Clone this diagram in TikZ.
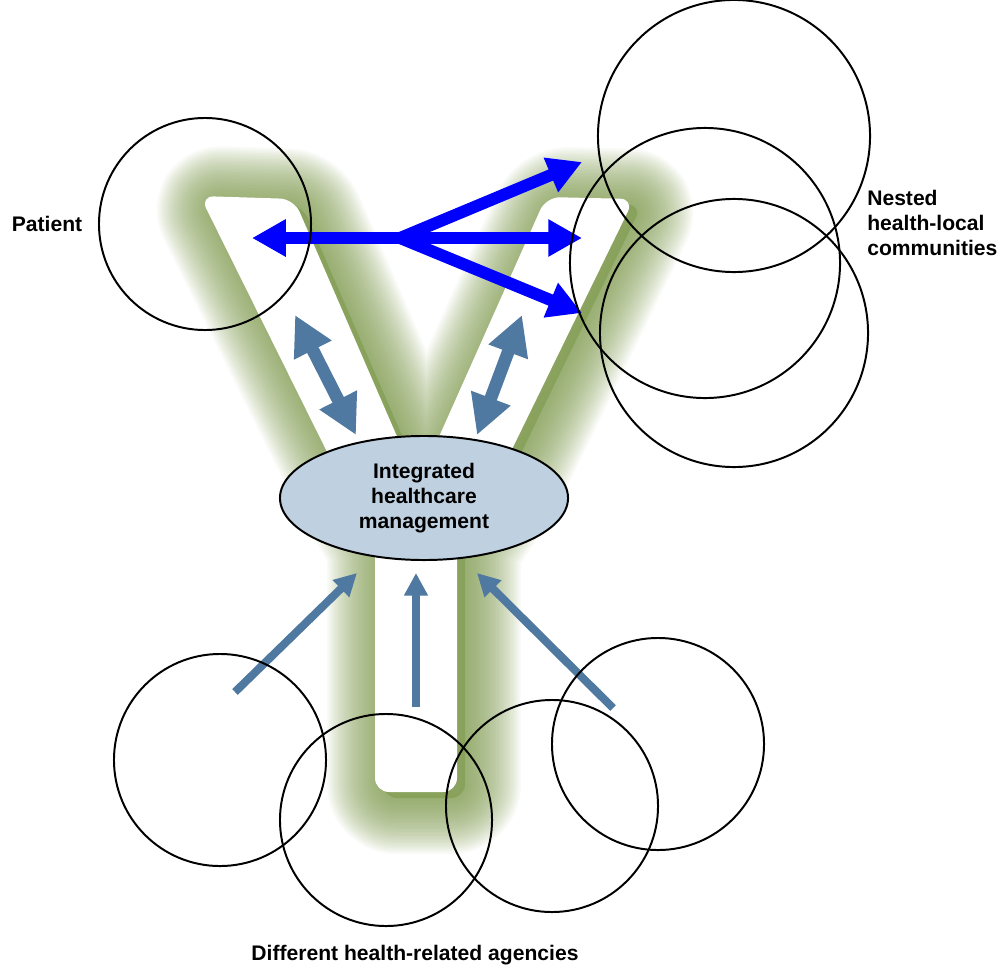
\documentclass[tikz,border=0pt]{standalone}
\usepackage{fontspec}
\setmainfont{Liberation Sans}
\usetikzlibrary{arrows.meta,shapes.geometric}

\definecolor{glowgreen}{RGB}{122,150,72}
\definecolor{steel}{RGB}{79,121,160}
\definecolor{hubfill}{RGB}{191,208,224}

\newcommand{\ypath}{(200,196) -- (294,199) -- (402,448) -- (434,448) -- (546,197) -- (634,199) -- (497,480) -- (457,540) -- (457,792) -- (375,792) -- (375,540) -- (341,480) -- cycle}

\begin{document}
\begin{tikzpicture}[x=0.025cm, y=-0.025cm,
  ring/.style={circle, draw, line width=1.4pt, inner sep=0pt, minimum size=5.3cm},
  bigring/.style={ring, minimum size=6.75cm},
  lbl/.style={font=\fontsize{15}{18}\selectfont\bfseries, inner sep=0pt},
  bluearr/.style={draw=blue, line width=8.5pt, -{Triangle[length=24pt,width=25pt]}},
  steelarr/.style={draw=steel, line width=9pt, {Triangle[length=28pt,width=28pt]}-{Triangle[length=28pt,width=28pt]}},
  feedarr/.style={draw=steel, line width=5.7pt, -{Triangle[length=16pt,width=16pt]}}]
  \useasboundingbox (0,0) rectangle (998,966);

  % soft green shadow behind the Y
  \begin{scope}[shift={(8,6)}, rounded corners=10pt, line join=round]
    \fill[glowgreen, opacity=0.6] \ypath;
    \foreach \w in {2,4,...,80}
      \draw[glowgreen, opacity=0.037, line width=\w pt] \ypath;
  \end{scope}
  \fill[white, rounded corners=10pt] \ypath;

  \node [ellipse, draw, line width=1.4pt, fill=hubfill, inner sep=0pt, minimum width=7.2cm, minimum height=3.1cm, lbl, align=center] (hub) at (424,498) {Integrated\\healthcare\\management};

  \coordinate (fork) at (400,238);
  \coordinate (pl) at (252,238);
  \coordinate (nr) at (582,238);
  \coordinate (nu) at (582,162);
  \coordinate (nd) at (582,313);
  \draw [bluearr, {Triangle[length=24pt,width=25pt]}-{Triangle[length=24pt,width=25pt]}] (pl) -- (nr);
  \draw [bluearr] (fork) -- (nu);
  \draw [bluearr] (fork) -- (nd);

  \coordinate (la) at (295,315);
  \coordinate (lb) at (356,435);
  \coordinate (ra) at (522,315);
  \coordinate (rb) at (477,435);
  \draw [steelarr] (la) -- (lb);
  \draw [steelarr] (ra) -- (rb);

  \coordinate (f1) at (235,692);
  \coordinate (t1) at (357,573);
  \coordinate (f2) at (416,707);
  \coordinate (t2) at (416,573);
  \coordinate (f3) at (613,708);
  \coordinate (t3) at (477,573);
  \draw [feedarr] (f1) -- (t1);
  \draw [feedarr] (f2) -- (t2);
  \draw [feedarr] (f3) -- (t3);

  \node [ring] (pat) at (205,224) {};
  \node [bigring, minimum size=6.8cm] (n1) at (734,136) {};
  \node [bigring] (n2) at (705,263) {};
  \node [bigring, minimum size=6.7cm] (n3) at (734,333) {};
  \node [ring] (a1) at (220,760) {};
  \node [ring] (a2) at (386,820) {};
  \node [ring] (a3) at (552,806) {};
  \node [ring] (a4) at (658,744) {};

  \node [lbl] (patient) at (47,224) {Patient};
  \node [lbl, anchor=west, align=left] (nested) at (867,223) {Nested\\health-local\\communities};
  \node [lbl] (agencies) at (415,955) {Different health-related agencies};
\end{tikzpicture}
\end{document}
